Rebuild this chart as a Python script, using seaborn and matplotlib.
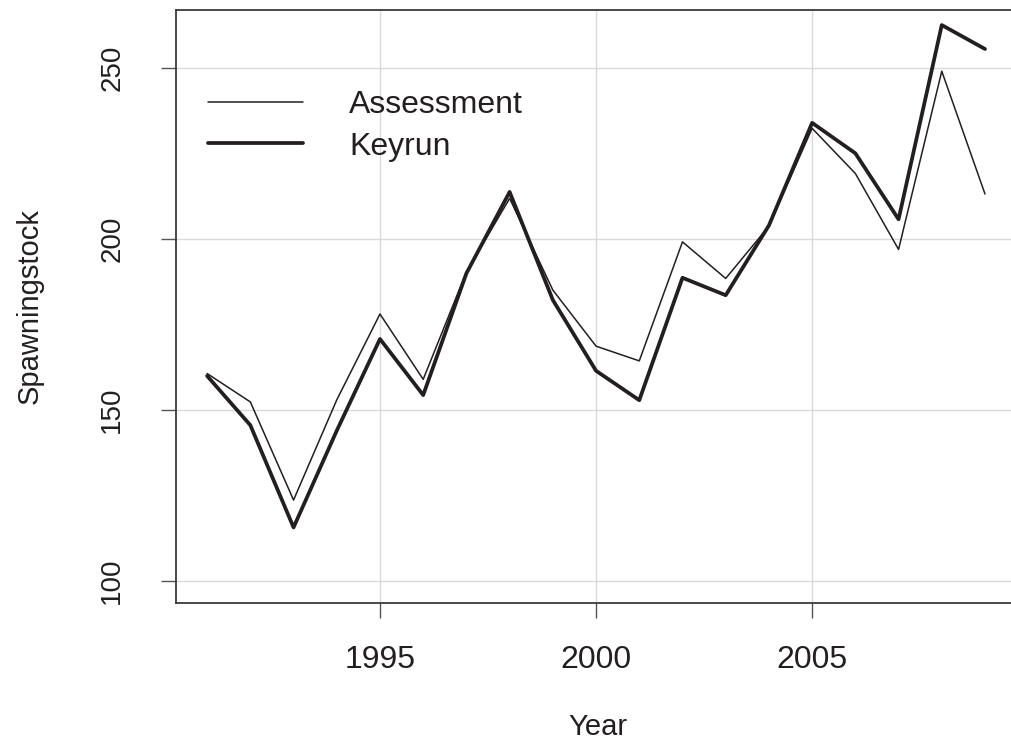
import matplotlib
matplotlib.use("Agg")
import matplotlib.pyplot as plt
import seaborn as sns
import pandas as pd

years = list(range(1991, 2010))
assessment = [160.7, 152.4, 123.7, 153.0, 178.1, 159.0, 190.4, 211.9, 185.1, 168.7,
              164.4, 199.2, 188.5, 203.8, 232.4, 219.2, 197.0, 249.1, 213.2]
keyrun = [160.0, 145.6, 115.7, 144.0, 170.8, 154.4, 190.0, 213.8, 182.2, 161.5,
          152.9, 188.7, 183.6, 204.0, 234.0, 225.1, 205.8, 262.6, 255.6]
series_names = ["Assessment", "Keyrun"]
x_ticks = [1995, 2000, 2005]
y_ticks = [100, 150, 200, 250]

sns.set_theme(style="white")
plt.rcParams["font.family"] = ["Liberation Sans", "DejaVu Sans"]

df = pd.DataFrame({"Year": years, "Assessment": assessment, "Keyrun": keyrun})

fig = plt.figure(figsize=(10.11, 7.46), dpi=100)
ax = fig.add_axes([176/1011, 143/746, 844/1011, 593/746])

ink = "#231f20"
sns.lineplot(data=df, x="Year", y="Assessment", ax=ax, color=ink, linewidth=1.1,
             label=series_names[0])
sns.lineplot(data=df, x="Year", y="Keyrun", ax=ax, color=ink, linewidth=2.7,
             label=series_names[1])

ax.set_xlim(1990.28, 2009.81)
ax.set_ylim(93.6, 267.0)
ax.set_xticks(x_ticks)
ax.set_yticks(y_ticks)
ax.grid(True, color="#d9d9d9", linewidth=1.0)
ax.set_axisbelow(True)

for s in ax.spines.values():
    s.set_visible(True)
    s.set_color("#3a3a3a")
    s.set_linewidth(1.3)

ax.tick_params(axis="both", which="both", bottom=True, left=True, top=False, right=False,
               length=10.5, width=1.0, color="#555555", labelcolor=ink, direction="out")
ax.tick_params(axis="x", pad=20, labelsize=23)
ax.tick_params(axis="y", pad=26, labelsize=20)
for lab in ax.get_yticklabels():
    lab.set_rotation(90)
    lab.set_va("center")

ax.set_xlabel("Year", fontsize=21, color=ink, labelpad=27)
ax.set_ylabel("Spawningstock", fontsize=21, color=ink, labelpad=40)

leg = ax.legend(loc="upper left", bbox_to_anchor=(32/844, 1 - 80/593),
                frameon=False, fontsize=23, handlelength=2.98, handletextpad=1.44,
                labelspacing=0.36, borderpad=0, borderaxespad=0)
for t in leg.get_texts():
    t.set_color(ink)

fig.savefig("out.png", dpi=100)
